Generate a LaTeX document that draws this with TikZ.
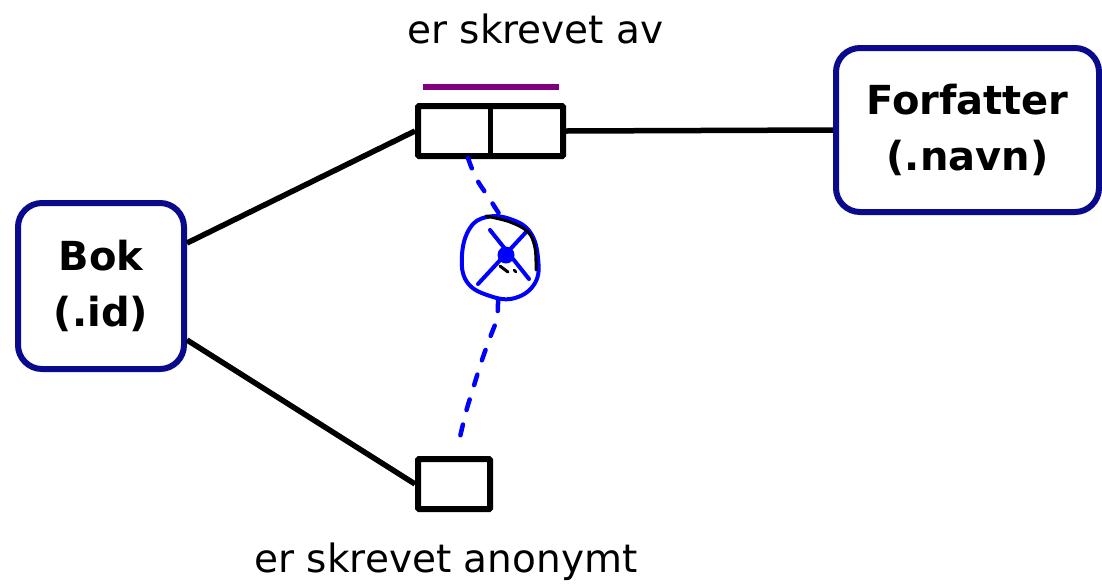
\documentclass[tikz,border=0pt]{standalone}
\usepackage{fontspec}
\setmainfont{DejaVu Sans}
\definecolor{boxblue}{RGB}{10,10,140}
\definecolor{relpurple}{RGB}{128,0,128}
\definecolor{penblue}{RGB}{0,0,255}
\begin{document}
\begin{tikzpicture}[x=1pt,y=-1pt,
  entity/.style={draw=boxblue,line width=6pt,rounded corners=24pt,fill=white,
    align=center,font=\fontsize{40}{56}\selectfont\bfseries,inner sep=0pt},
  relbox/.style={draw=black,line width=6pt,fill=white,inner sep=0pt,rounded corners=1pt},
  link/.style={line width=5.5pt,black},
  lbl/.style={font=\fontsize{39}{44}\selectfont,inner sep=0pt,anchor=base},
  pen/.style={penblue,line width=4pt,line cap=round,line join=round},
  pendash/.style={pen,line width=4.5pt,dash pattern=on 11pt off 15pt}
]
\useasboundingbox (0,0) rectangle (1102,587);
\fill[white] (0,0) rectangle (1102,587);

\node[entity,minimum width=166pt,minimum height=166pt] (bok) at (101,286) {Bok\\(.id)};
\node[entity,minimum width=263pt,minimum height=164pt] (forf) at (967.5,130) {Forfatter\\(.navn)};
\node[relbox,minimum width=145pt,minimum height=50pt] (rel) at (490.5,131) {};
\node[relbox,minimum width=72pt,minimum height=50pt] (anon) at (454,484) {};
\draw[link] (rel.north) -- (rel.south);

\draw[link] ([yshift=43pt]bok.east) -- (rel.west);
\draw[link] (rel.east) -- (forf.west);
\draw[link] ([yshift=-54pt]bok.east) -- (anon.west);

\coordinate (purpA) at (423,87);
\coordinate (purpB) at (559,87);
\draw[relpurple,line width=5.5pt] (purpA) -- (purpB);

\node[lbl] (lblav) at (535.5,43) {er skrevet av};
\node[lbl] (lblanon) at (446,572) {er skrevet anonymt};

% hand-drawn annotation
\draw[pendash] plot[smooth,tension=0.6] coordinates {(468,158) (476,178) (489,198) (498,212) (505,222)};
\draw[pendash] plot[smooth,tension=0.6] coordinates {(498,300) (497,318) (491,335) (482,360) (472,392) (466,412) (460,437)};
\draw[pen] plot[smooth cycle,tension=0.7] coordinates {(487,217) (510,219) (530,232) (538,258) (535,283) (515,298) (490,296) (467,282) (462,255) (470,228)};
\draw[pen] (478,284) -- (528,230);
\draw[pen] (490,230) -- (529,279);
\fill[penblue] (506,255) circle (8.5pt);
\draw[black,line width=3pt,line cap=round] plot[smooth,tension=0.6] coordinates {(486,216) (510,222) (528,232) (535,248) (536,270)};
\draw[black,line width=3pt,line cap=round] (500,266) -- (508,272);
\draw[black,line width=2.5pt,line cap=round] (514,270) -- (516,272);
\end{tikzpicture}
\end{document}
